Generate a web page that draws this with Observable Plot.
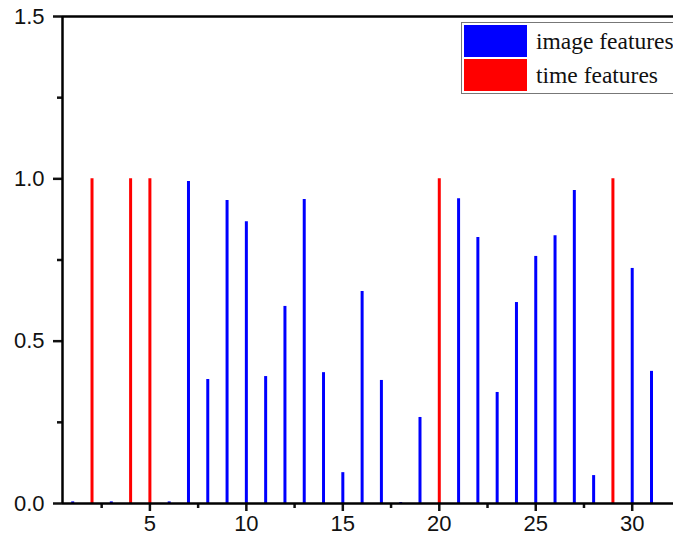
<!DOCTYPE html>
<html>
<head>
<meta charset="utf-8">
<script src="https://cdn.jsdelivr.net/npm/d3@7"></script>
<script src="https://cdn.jsdelivr.net/npm/@observablehq/plot@0.6"></script>
<style>
  html, body { margin: 0; padding: 0; background: #fff; }
  #wrap { position: relative; width: 673px; height: 544px; overflow: hidden; }
  #chart svg text { font-size: 22px !important; font-family: "Liberation Sans", Arial, sans-serif !important; }
  #legend { position: absolute; left: 461px; top: 22px; width: 230px; height: 70px;
    border: 1.5px solid #777; background: #fff; font-family: "Liberation Serif", "Times New Roman", serif; font-size: 23.5px; color: #111; }
  .row { position: absolute; left: 2px; height: 32px; display: flex; align-items: center; white-space: nowrap; }
  .sw { width: 63px; height: 32px; margin-right: 9px; }
</style>
</head>
<body>
<div id="wrap">
  <div id="chart"></div>
  <div id="legend">
    <div class="row" style="top:2px"><div class="sw" style="background:#0000ff"></div><span>image features</span></div>
    <div class="row" style="top:36px"><div class="sw" style="background:#ff0000"></div><span>time features</span></div>
  </div>
</div>
<script>
const features = d3.range(1, 32);
const values = [0.005, 1.0, 0.005, 1.0, 1.0, 0.005, 0.992, 0.382, 0.933, 0.868,
                0.391, 0.607, 0.936, 0.403, 0.095, 0.653, 0.379, 0.003, 0.265, 1.0,
                0.939, 0.819, 0.342, 0.619, 0.761, 0.825, 0.964, 0.086, 1.0, 0.724, 0.407];
const types = ["image","time","image","time","time","image","image","image","image","image",
               "image","image","image","image","image","image","image","image","image","time",
               "image","image","image","image","image","image","image","image","time","image","image"];
const yMajor = [0, 0.5, 1.0, 1.5];
const yMinor = [0.25, 0.75, 1.25];
const xMajor = [5, 10, 15, 20, 25, 30];
const xMinor = [2.5, 7.5, 12.5, 17.5, 22.5, 27.5];

const data = features.map((f, i) => ({feature: f, value: values[i], type: types[i]}));
const xDomain = [0.47, 32.14];
const font = "'Liberation Sans', Arial, sans-serif";

const chart = Plot.plot({
  width: 673,
  height: 544,
  marginLeft: 62,
  marginTop: 16,
  marginBottom: 41,
  marginRight: 0,
  style: {fontFamily: font, fontSize: "22px", color: "#111", background: "#fff"},
  x: {domain: xDomain},
  y: {domain: [0, 1.5]},
  marks: [
    Plot.ruleX(data, {x: "feature", y1: 0, y2: "value", strokeWidth: 3,
      stroke: d => d.type === "time" ? "#ff0000" : "#0000ff"}),
    Plot.axisY(yMajor, {tickSize: 9, tickPadding: 9, tickFormat: d3.format(".1f"), strokeWidth: 2.5, label: null}),
    Plot.axisY(yMinor, {tickSize: 5, tickFormat: () => "", strokeWidth: 2.5, label: null}),
    Plot.axisX(xMajor, {tickSize: 8, tickPadding: 4, strokeWidth: 2.5, label: null}),
    Plot.axisX(xMinor, {tickSize: 5, tickFormat: () => "", strokeWidth: 2.5, label: null}),
    Plot.ruleX([xDomain[0]], {strokeWidth: 2.5, stroke: "#000"}),
    Plot.ruleY([0], {strokeWidth: 2.5, stroke: "#000"}),
    Plot.ruleY([1.5], {strokeWidth: 2.5, stroke: "#000"})
  ]
});
document.getElementById("chart").appendChild(chart);
</script>
</body>
</html>
